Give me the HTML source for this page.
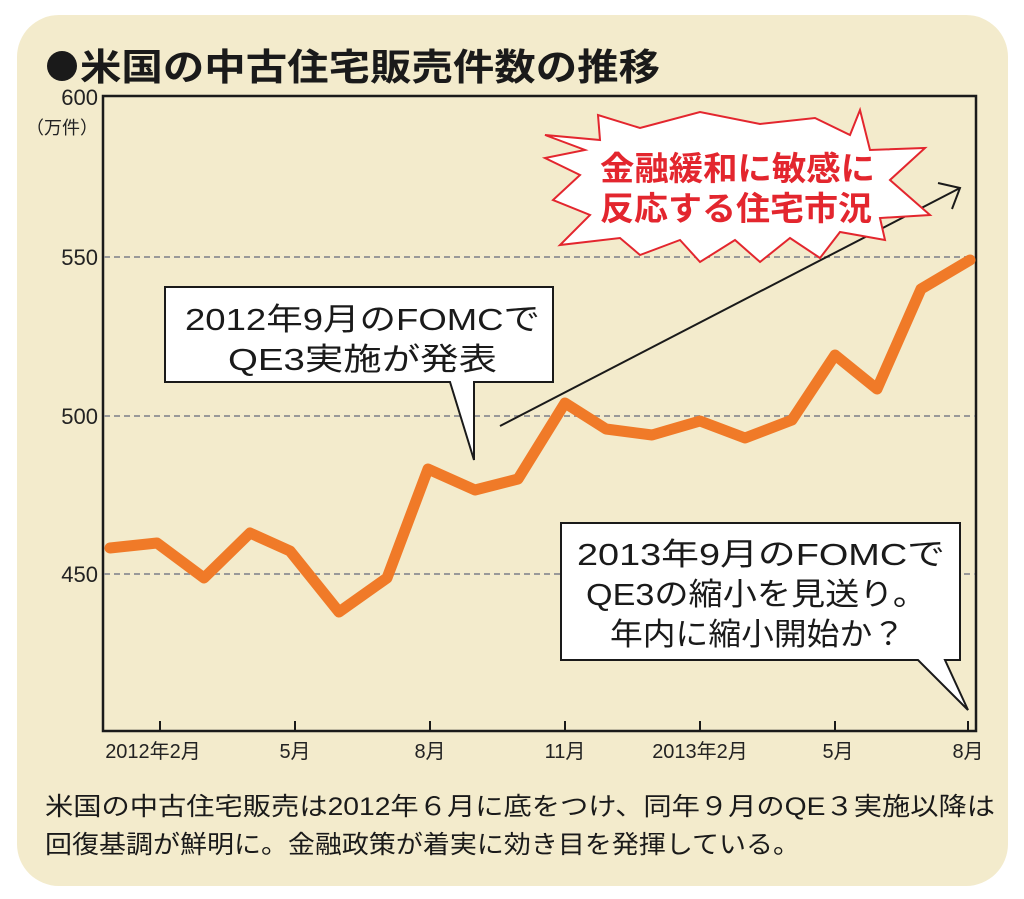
<!DOCTYPE html>
<html><head><meta charset="utf-8"><style>
html,body{margin:0;padding:0;background:#fff;width:1024px;height:899px;overflow:hidden}
svg{display:block}
text{font-family:"Liberation Sans","Noto Sans CJK JP",sans-serif}
</style></head><body>
<svg width="1024" height="899" viewBox="0 0 1024 899">
<rect x="17" y="15" width="991" height="871" rx="42" fill="#f3ebcc"/>
<circle cx="62" cy="66" r="15" fill="#1a1a1a"/>
<text x="80" y="80" font-size="37" font-weight="bold" fill="#1a1a1a" textLength="580" lengthAdjust="spacingAndGlyphs">米国の中古住宅販売件数の推移</text>
<rect x="103" y="96" width="873" height="635" fill="none" stroke="#1a1a1a" stroke-width="2.5"/>
<g stroke="#999" stroke-width="2" stroke-dasharray="6,4">
<line x1="104" y1="257" x2="975" y2="257"/><line x1="104" y1="416" x2="975" y2="416"/><line x1="104" y1="574" x2="975" y2="574"/>
</g>
<g font-size="22" fill="#222" text-anchor="end">
<text x="98" y="105">600</text><text x="98" y="265">550</text><text x="98" y="424">500</text><text x="98" y="582">450</text>
<text x="98" y="134" font-size="18">（万件）</text>
</g>
<g stroke="#1a1a1a" stroke-width="2">
<line x1="160" y1="731" x2="160" y2="721"/><line x1="295" y1="731" x2="295" y2="721"/><line x1="430" y1="731" x2="430" y2="721"/><line x1="565" y1="731" x2="565" y2="721"/><line x1="700" y1="731" x2="700" y2="721"/><line x1="835" y1="731" x2="835" y2="721"/><line x1="968" y1="731" x2="968" y2="721"/>
</g>
<g font-size="20" fill="#222" text-anchor="middle">
<text x="153" y="758">2012年2月</text><text x="295" y="758">5月</text><text x="430" y="758">8月</text><text x="565" y="758">11月</text><text x="700" y="758">2013年2月</text><text x="838" y="758">5月</text><text x="968" y="758">8月</text>
</g>
<polyline fill="none" stroke="#f07a28" stroke-width="11" stroke-linejoin="round" stroke-linecap="round" points="110,548 157,543 204,578 250,533 290,551 339,612 387,578 428,469 475,490 518,479 565,403 606,429 652,435 700,421 745,438 792,420 835,355 877,389 921,289 970,260"/>
<polyline fill="none" stroke="#1a1a1a" stroke-width="2" points="500,426 960,188"/>
<polyline fill="none" stroke="#1a1a1a" stroke-width="2" points="938,183 960,188 952,209"/>
<polygon fill="#fff" stroke="#e3262e" stroke-width="2" points="545,135 600,140 598,115 640,128 700,112 760,124 815,118 850,135 860,110 870,150 925,148 890,180 930,215 880,218 885,240 840,232 820,258 790,238 760,262 735,240 700,262 680,240 640,255 620,238 560,245 590,215 553,200 580,175 545,158 585,150"/>
<g font-size="33" font-weight="bold" fill="#e3262e">
<text x="600" y="180" textLength="275" lengthAdjust="spacingAndGlyphs">金融緩和に敏感に</text><text x="600" y="220" textLength="272" lengthAdjust="spacingAndGlyphs">反応する住宅市況</text>
</g>
<polygon fill="#fff" stroke="#1a1a1a" stroke-width="2" points="165,287 553,287 553,382 474,382 474,460 450,382 165,382"/>
<g font-size="31" fill="#1a1a1a">
<text x="185" y="330" textLength="355" lengthAdjust="spacingAndGlyphs">2012年9月のFOMCで</text><text x="228" y="370" textLength="269" lengthAdjust="spacingAndGlyphs">QE3実施が発表</text>
</g>
<polygon fill="#fff" stroke="#1a1a1a" stroke-width="2" points="561,523 960,523 960,660 945,660 968,710 918,660 561,660"/>
<g font-size="31" fill="#1a1a1a">
<text x="577" y="565" textLength="368" lengthAdjust="spacingAndGlyphs">2013年9月のFOMCで</text><text x="586" y="605" textLength="341" lengthAdjust="spacingAndGlyphs">QE3の縮小を見送り。</text><text x="610" y="645" textLength="295" lengthAdjust="spacingAndGlyphs">年内に縮小開始か？</text>
</g>
<g font-size="25" fill="#1a1a1a">
<text x="45" y="815" textLength="950" lengthAdjust="spacingAndGlyphs">米国の中古住宅販売は2012年６月に底をつけ、同年９月のQE３実施以降は</text>
<text x="45" y="853" textLength="755" lengthAdjust="spacingAndGlyphs">回復基調が鮮明に。金融政策が着実に効き目を発揮している。</text>
</g>
</svg>
</body></html>
